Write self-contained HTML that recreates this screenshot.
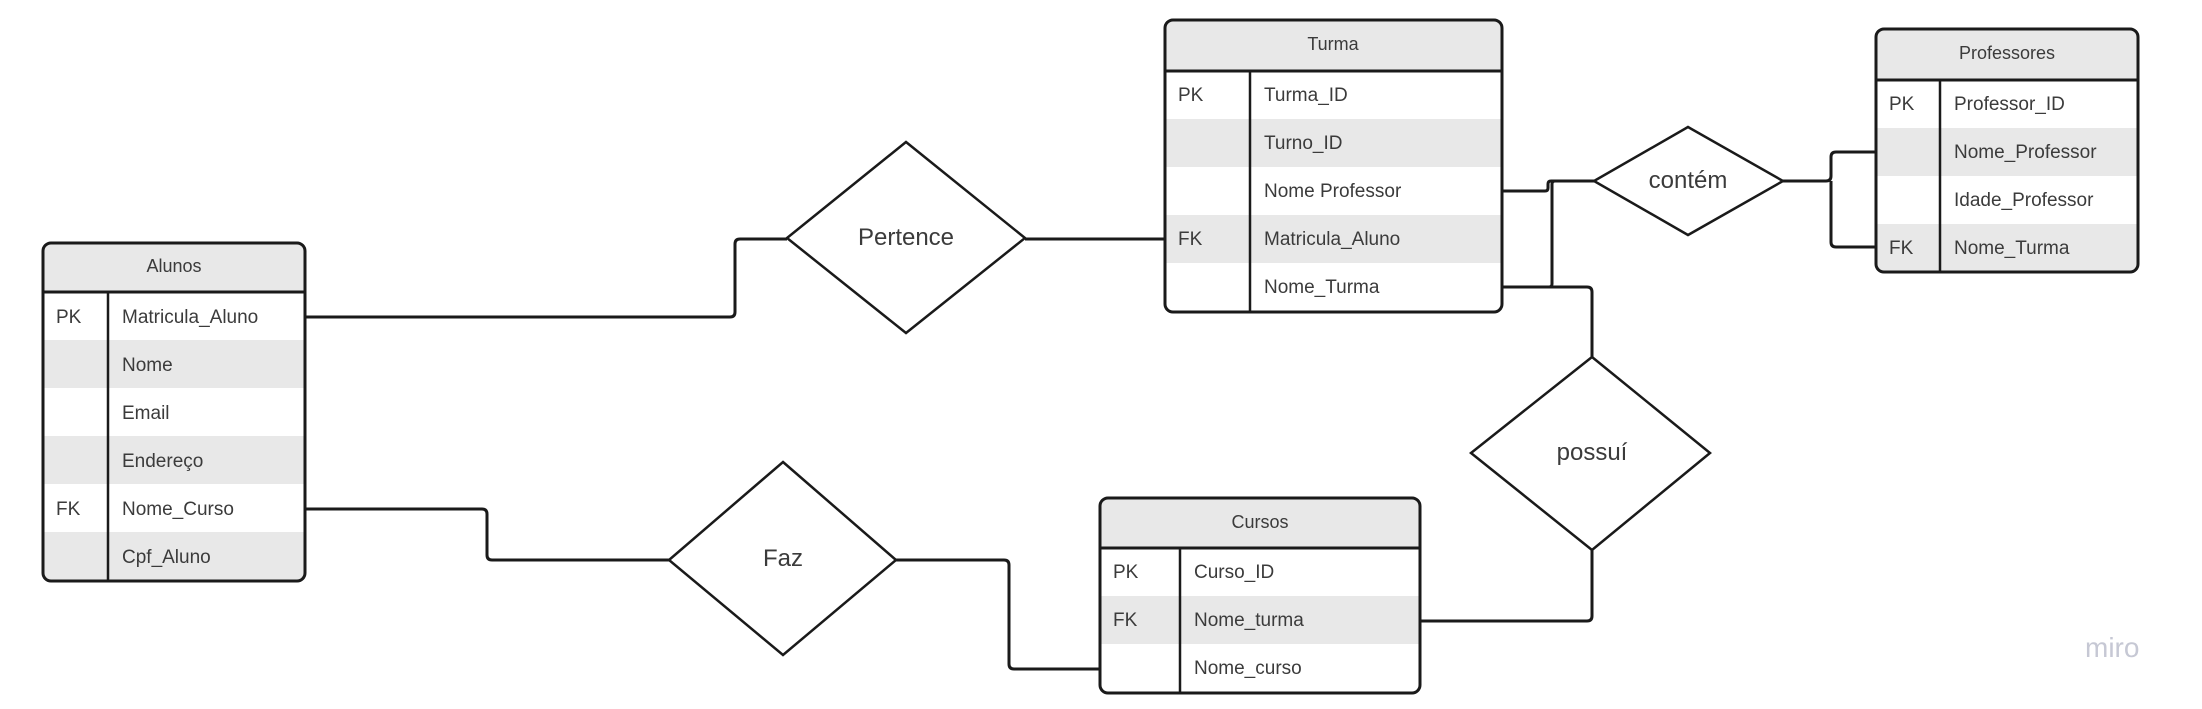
<!DOCTYPE html>
<html><head><meta charset="utf-8"><style>
html,body{margin:0;padding:0;background:#fff;width:2202px;height:709px;overflow:hidden}
svg text{font-family:"Liberation Sans",sans-serif;fill:#3b3b3b}
</style></head><body>
<svg width="2202" height="709" viewBox="0 0 2202 709" xmlns="http://www.w3.org/2000/svg">
<g fill="none" stroke="#1a1a1a" stroke-width="3" stroke-linejoin="round">
<path d="M305 317 H730 Q735 317 735 312 V244 Q735 239 740 239 H787"/>
<path d="M1025 239 H1165"/>
<path d="M305 509 H482 Q487 509 487 514 V555 Q487 560 492 560 H669"/>
<path d="M896 560 H1004 Q1009 560 1009 565 V664 Q1009 669 1014 669 H1100"/>
<path d="M1502 191 H1545 Q1548 191 1548 188 V184 Q1548 181 1551 181 H1594"/>
<path d="M1502 287 H1549 Q1552 287 1552 284 V184 Q1552 181 1555 181"/>
<path d="M1502 287 H1587 Q1592 287 1592 292 V357"/>
<path d="M1783 181 H1826 Q1831 181 1831 176 V157 Q1831 152 1836 152 H1876"/>
<path d="M1831 181 V242 Q1831 247 1836 247 H1876"/>
<path d="M1592 550 V616 Q1592 621 1587 621 H1420"/>
</g>
<g fill="#fff" stroke="#1a1a1a" stroke-width="2.5">
<polygon points="906,142 1025,238 906,333 787,238"/>
<polygon points="783,462 896,560 783,655 669,560"/>
<polygon points="1688,127 1783,181 1688,235 1594,181"/>
<polygon points="1592,357 1710,453 1592,550 1471,453"/>
</g>
<g font-size="24" text-anchor="middle">
<text x="906" y="245">Pertence</text>
<text x="783" y="566">Faz</text>
<text x="1688" y="188">contém</text>
<text x="1592" y="460">possuí</text>
</g>

<g>
<rect x="43" y="243" width="262" height="338" rx="8" fill="#fff"/>
<path d="M43 292 V251 Q43 243 51 243 H297 Q305 243 305 251 V292 Z" fill="#e8e8e8"/>
<rect x="43" y="340" width="262" height="48" fill="#e8e8e8"/>
<rect x="43" y="436" width="262" height="48" fill="#e8e8e8"/>
<path d="M43 532 H305 V573 Q305 581 297 581 H51 Q43 581 43 573 Z" fill="#e8e8e8"/>
<rect x="43" y="243" width="262" height="338" rx="8" fill="none" stroke="#1a1a1a" stroke-width="3"/>
<line x1="43" y1="292" x2="305" y2="292" stroke="#1a1a1a" stroke-width="3"/>
<line x1="108" y1="292" x2="108" y2="581" stroke="#1a1a1a" stroke-width="2.5"/>
<text x="174" y="272" font-size="18" text-anchor="middle">Alunos</text>
<g font-size="19">
<text x="56" y="323">PK</text><text x="122" y="323">Matricula_Aluno</text>
<text x="122" y="371">Nome</text>
<text x="122" y="419">Email</text>
<text x="122" y="467">Endereço</text>
<text x="56" y="515">FK</text><text x="122" y="515">Nome_Curso</text>
<text x="122" y="563">Cpf_Aluno</text>
</g>
</g>

<g>
<rect x="1165" y="20" width="337" height="292" rx="8" fill="#fff"/>
<path d="M1165 71 V28 Q1165 20 1173 20 H1494 Q1502 20 1502 28 V71 Z" fill="#e8e8e8"/>
<rect x="1165" y="119" width="337" height="48" fill="#e8e8e8"/>
<rect x="1165" y="215" width="337" height="48" fill="#e8e8e8"/>
<rect x="1165" y="20" width="337" height="292" rx="8" fill="none" stroke="#1a1a1a" stroke-width="3"/>
<line x1="1165" y1="71" x2="1502" y2="71" stroke="#1a1a1a" stroke-width="3"/>
<line x1="1250" y1="71" x2="1250" y2="312" stroke="#1a1a1a" stroke-width="2.5"/>
<text x="1333" y="50" font-size="18" text-anchor="middle">Turma</text>
<g font-size="19">
<text x="1178" y="101">PK</text><text x="1264" y="101">Turma_ID</text>
<text x="1264" y="149">Turno_ID</text>
<text x="1264" y="197">Nome Professor</text>
<text x="1178" y="245">FK</text><text x="1264" y="245">Matricula_Aluno</text>
<text x="1264" y="293">Nome_Turma</text>
</g>
</g>

<g>
<rect x="1876" y="29" width="262" height="243" rx="8" fill="#fff"/>
<path d="M1876 80 V37 Q1876 29 1884 29 H2130 Q2138 29 2138 37 V80 Z" fill="#e8e8e8"/>
<rect x="1876" y="128" width="262" height="48" fill="#e8e8e8"/>
<path d="M1876 224 H2138 V264 Q2138 272 2130 272 H1884 Q1876 272 1876 264 Z" fill="#e8e8e8"/>
<rect x="1876" y="29" width="262" height="243" rx="8" fill="none" stroke="#1a1a1a" stroke-width="3"/>
<line x1="1876" y1="80" x2="2138" y2="80" stroke="#1a1a1a" stroke-width="3"/>
<line x1="1940" y1="80" x2="1940" y2="272" stroke="#1a1a1a" stroke-width="2.5"/>
<text x="2007" y="59" font-size="18" text-anchor="middle">Professores</text>
<g font-size="19">
<text x="1889" y="110">PK</text><text x="1954" y="110">Professor_ID</text>
<text x="1954" y="158">Nome_Professor</text>
<text x="1954" y="206">Idade_Professor</text>
<text x="1889" y="254">FK</text><text x="1954" y="254">Nome_Turma</text>
</g>
</g>

<g>
<rect x="1100" y="498" width="320" height="195" rx="8" fill="#fff"/>
<path d="M1100 548 V506 Q1100 498 1108 498 H1412 Q1420 498 1420 506 V548 Z" fill="#e8e8e8"/>
<rect x="1100" y="596" width="320" height="48" fill="#e8e8e8"/>
<rect x="1100" y="498" width="320" height="195" rx="8" fill="none" stroke="#1a1a1a" stroke-width="3"/>
<line x1="1100" y1="548" x2="1420" y2="548" stroke="#1a1a1a" stroke-width="3"/>
<line x1="1180" y1="548" x2="1180" y2="693" stroke="#1a1a1a" stroke-width="2.5"/>
<text x="1260" y="528" font-size="18" text-anchor="middle">Cursos</text>
<g font-size="19">
<text x="1113" y="578">PK</text><text x="1194" y="578">Curso_ID</text>
<text x="1113" y="626">FK</text><text x="1194" y="626">Nome_turma</text>
<text x="1194" y="674">Nome_curso</text>
</g>
</g>

<text x="2085" y="657" font-size="28" style="fill:#c6c8d4">miro</text>
</svg>
</body></html>
